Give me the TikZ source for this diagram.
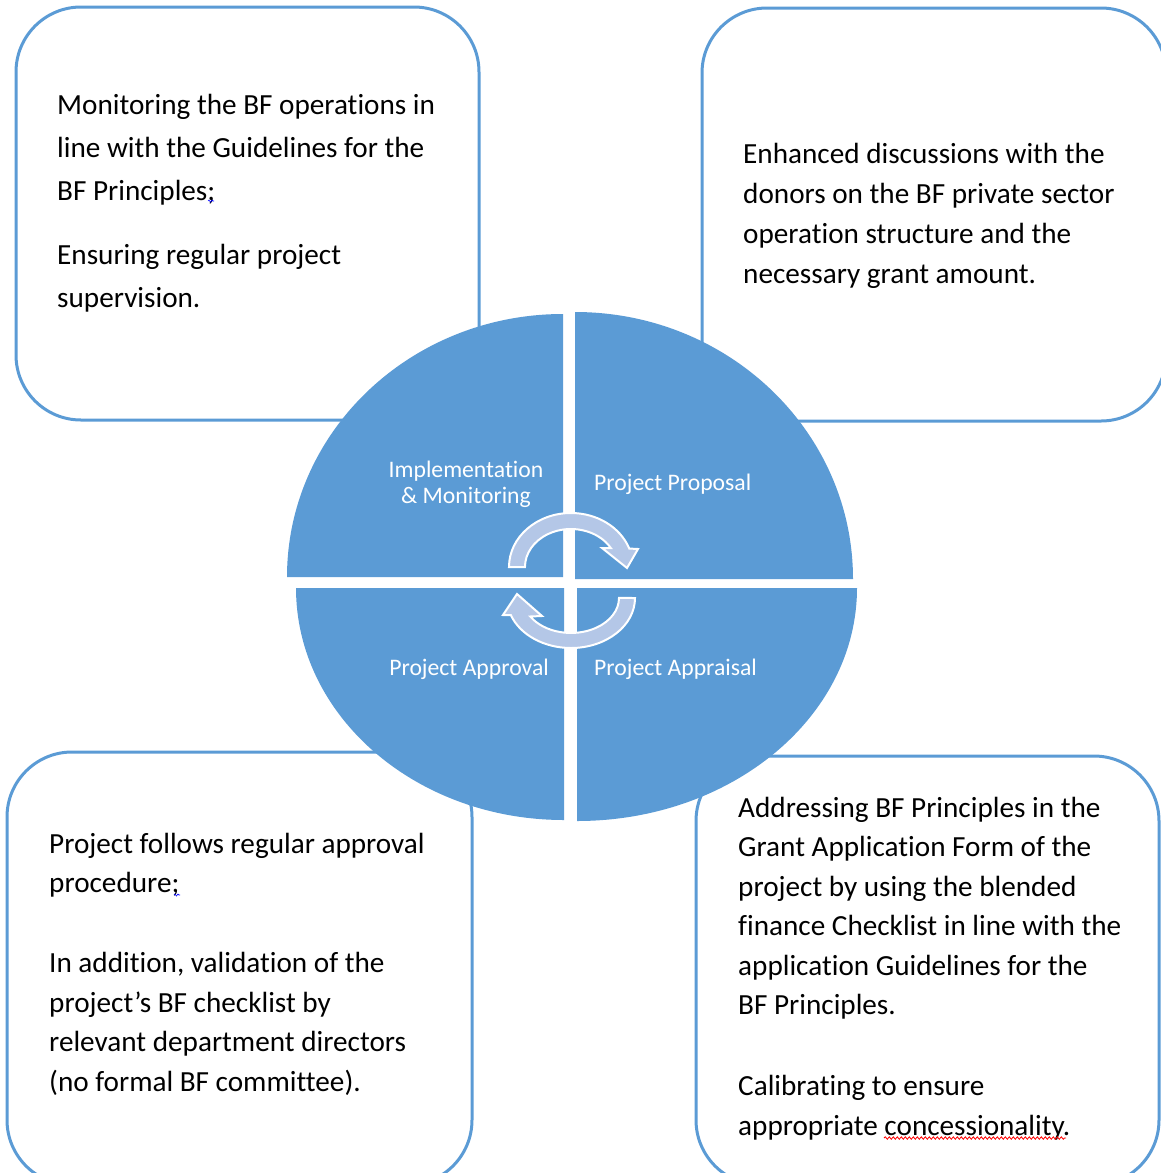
\documentclass[tikz,border=0pt]{standalone}
\usepackage{fontspec}
\setmainfont{Carlito}[Ligatures=NoCommon]
\usepackage{tikz}
\usetikzlibrary{decorations.pathmorphing}
\definecolor{accent}{HTML}{5B9BD5}
\definecolor{arrowfill}{HTML}{B4C7E7}
\tikzset{
	infobox/.style={draw=accent, line width=3pt, rounded corners=65pt, fill=white}, % the four text boxes
	quarter/.style={fill=accent}, % one quarter of the cycle
	cyclearrow/.style={fill=arrowfill, draw=white, line width=2pt}, % curved block arrows in the middle
	boxtext/.style={anchor=north west, inner sep=0pt, align=left, text=black}, % text in the boxes
	quartertext/.style={inner sep=0pt, text=white, font=\fontsize{23.7}{26}\selectfont}, % labels on the quarters
	squiggle/.style={decorate, decoration={snake, amplitude=1.2pt, segment length=4pt}, line width=0.8pt}, % spell check marks
}

\begin{document}
\begin{tikzpicture}[x=1pt, y=-1pt]
	\useasboundingbox (0,0) rectangle (1161,1173);
	\clip (0,0) rectangle (1161,1173);
	% boxes
	\draw[infobox] (16,7) rectangle (479,420);
	\draw[infobox] (702,8) rectangle (1166,421);
	\draw[infobox] (7,752) rectangle (472,1185);
	\draw[infobox] (696,756) rectangle (1159,1185);
	% quarters of the cycle
	\fill[quarter] (563,577) -- (287,577) arc[start angle=180, end angle=270, x radius=276, y radius=263] -- cycle;
	\fill[quarter] (575,579) -- (575,312) arc[start angle=270, end angle=360, x radius=278, y radius=267] -- cycle;
	\fill[quarter] (577,588) -- (857,588) arc[start angle=0, end angle=90, x radius=280, y radius=233] -- cycle;
	\fill[quarter] (564,588) -- (564,820) arc[start angle=90, end angle=180, x radius=268, y radius=232] -- cycle;
	% arrows
	\draw[cyclearrow] (509,567) arc[start angle=180, end angle=340, x radius=62, y radius=54]
		-- (638,549) -- (627,568) -- (602,548) -- (610.8,548)
		arc[start angle=330, end angle=180, x radius=46, y radius=38] -- cycle;
	\draw[cyclearrow] (635,598) arc[start angle=0, end angle=160, x radius=64, y radius=50]
		-- (503,615) -- (517,594) -- (542,616) -- (530.3,616.5)
		arc[start angle=148, end angle=0, x radius=48, y radius=35] -- cycle;
	% labels
	\node[quartertext, align=center] (impl) at (466,484) {Implementation\\\& Monitoring};
	\node[quartertext, anchor=west] (proposal) at (594,484) {Project Proposal};
	\node[quartertext, anchor=east] (approval) at (549,669) {Project Approval};
	\node[quartertext, anchor=west] (appraisal) at (594,669) {Project Appraisal};
	% box texts
	\node[boxtext, font=\fontsize{29.2}{43}\selectfont] (monitoring) at (57,84)
		{\strut Monitoring the BF operations in\\line with the Guidelines for the\\BF Principles;\\[21pt]Ensuring regular project\\supervision.};
	\node[boxtext, font=\fontsize{29.2}{40}\selectfont] (discussions) at (743,135)
		{\strut Enhanced discussions with the\\donors on the BF private sector\\operation structure and the\\necessary grant amount.};
	\node[boxtext, font=\fontsize{29.2}{39.7}\selectfont] (procedure) at (49,825.2)
		{\strut Project follows regular approval\\procedure;\\[39.7pt]In addition, validation of the\\project’s BF checklist by\\relevant department directors\\(no formal BF committee).};
	\node[boxtext, font=\fontsize{29.2}{39.5}\selectfont] (addressing) at (738,789.4)
		{\strut Addressing BF Principles in the\\Grant Application Form of the\\project by using the blended\\finance Checklist in line with the\\application Guidelines for the\\BF Principles.\\[41.5pt]Calibrating to ensure\\appropriate concessionality.};
	% spell check marks
	\draw[squiggle, red] (884,1138) -- (1066,1138);
	\draw[squiggle, blue, line width=0.6pt, decoration={amplitude=1pt, segment length=3pt}] (208,201) -- (214,201);
	\draw[squiggle, blue, line width=0.6pt, decoration={amplitude=1pt, segment length=3pt}] (174,895) -- (180,895);
\end{tikzpicture}
\end{document}
